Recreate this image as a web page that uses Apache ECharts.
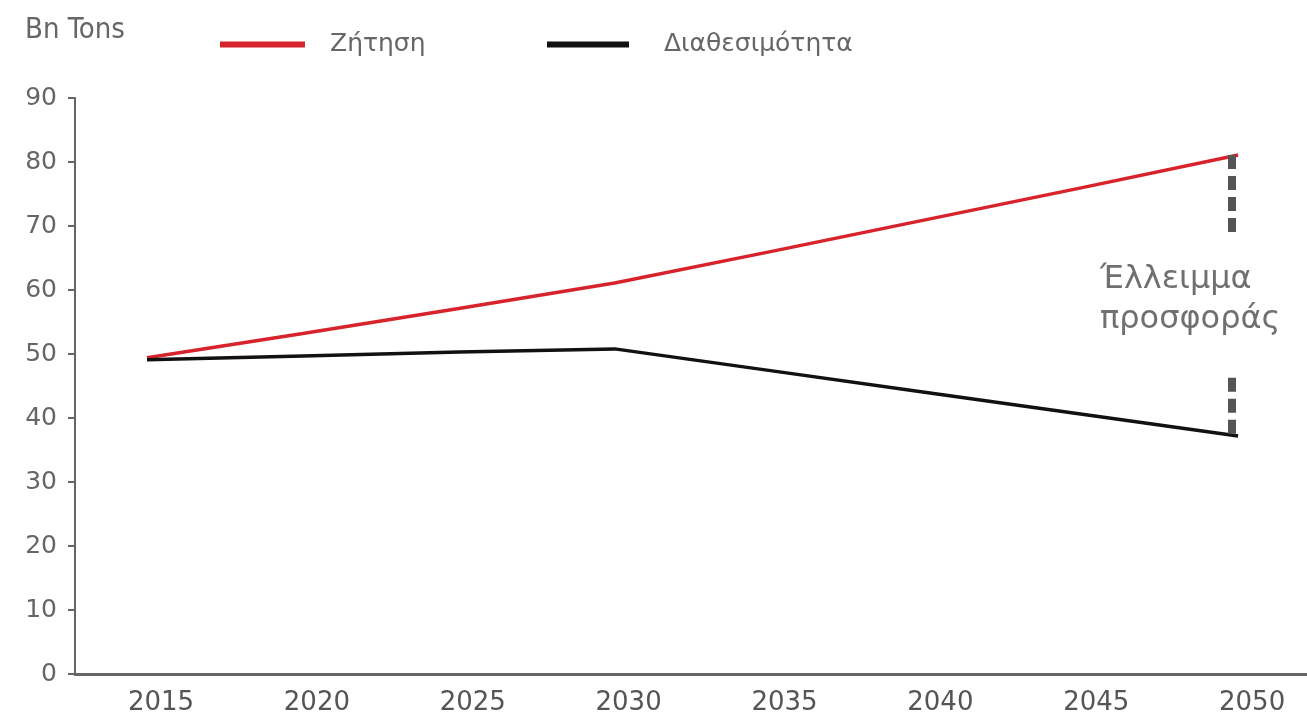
<!DOCTYPE html>
<html>
<head>
<meta charset="utf-8">
<script src="https://cdn.jsdelivr.net/npm/echarts@6/dist/echarts.min.js"></script>
<style>
html,body{margin:0;padding:0;background:#fff;}
#chart{width:1307px;height:728px;}
</style>
</head>
<body>
<div id="chart"></div>
<script>
// ---- data ----
const years = [2015, 2020, 2025, 2030, 2035, 2040, 2045, 2050];
const demand = [49.4, 53.2, 57.1, 61.1, 66.0, 71.0, 76.0, 81.1];     // Ζήτηση
const supply = [49.1, 49.7, 50.3, 50.8, 47.4, 44.0, 40.6, 37.2];     // Διαθεσιμότητα
const seriesNames = ['Ζήτηση', 'Διαθεσιμότητα'];
const gapX = 2049.8;
const gapUpper = [81.1, 69.05];
const gapLower = [46.3, 37.55];
const gapLabel = 'Έλλειμμα\nπροσφοράς';
const yTicks = [0, 10, 20, 30, 40, 50, 60, 70, 80, 90];
const yUnit = 'Bn Tons';

const FONT = "'DejaVu Sans', sans-serif";
const chart = echarts.init(document.getElementById('chart'));
const pairs = arr => years.map((y, i) => [y, arr[i]]);

chart.setOption({
  animation: false,
  backgroundColor: '#ffffff',
  grid: { left: 75, right: 0, top: 98, bottom: 54, containLabel: false },
  legend: [
    { data: [seriesNames[0]], left: 215, top: 27, icon: 'rect', itemWidth: 85, itemHeight: 6,
      textStyle: { color: '#666', fontSize: 25, fontFamily: FONT, padding: [0, 0, 0, 20] } },
    { data: [seriesNames[1]], left: 542, top: 27, icon: 'rect', itemWidth: 82, itemHeight: 6,
      textStyle: { color: '#666', fontSize: 25, fontFamily: FONT, padding: [0, 0, 0, 30] } }
  ],
  xAxis: {
    type: 'value',
    min: 2012.69, max: 2052.21,
    splitNumber: 8, minInterval: 5, maxInterval: 5,
    axisLine: { show: true, lineStyle: { color: '#666', width: 3 } },
    axisTick: { show: false },
    splitLine: { show: false },
    axisLabel: {
      showMinLabel: false, showMaxLabel: false,
      color: '#555', fontSize: 26, fontFamily: FONT, margin: 16,
      padding: [0, 0, 0, 28],
      formatter: v => (years.indexOf(Math.round(v)) >= 0 && Math.abs(v - Math.round(v)) < 1e-6) ? String(Math.round(v)) : ''
    }
  },
  yAxis: {
    type: 'value',
    min: yTicks[0], max: yTicks[yTicks.length - 1], interval: 10,
    name: yUnit, nameLocation: 'end', nameGap: 53,
    nameTextStyle: { color: '#666', fontSize: 29, fontFamily: "'Liberation Sans Narrow', 'DejaVu Sans Condensed', " + FONT, align: 'center' },
    axisLine: { show: true, lineStyle: { color: '#666', width: 2 } },
    axisTick: { show: true, length: 7, lineStyle: { color: '#666', width: 2 } },
    splitLine: { show: false },
    axisLabel: { color: '#666', fontSize: 25, fontFamily: FONT, margin: 18 }
  },
  series: [
    {
      name: seriesNames[0], type: 'line', data: pairs(demand),
      showSymbol: false, symbol: 'none',
      lineStyle: { color: '#d7232b', width: 3.5 }, itemStyle: { color: '#d7232b' },
      z: 3,
      markLine: {
        silent: true, symbol: ['none', 'none'],
        label: { show: false },
        lineStyle: { color: '#555', width: 8, type: [14, 7] },
        data: [
          [{ coord: [gapX, gapUpper[0]] }, { coord: [gapX, gapUpper[1]] }],
          [{ coord: [gapX, gapLower[0]] }, { coord: [gapX, gapLower[1]] }]
        ]
      }
    },
    {
      name: seriesNames[1], type: 'line', data: pairs(supply),
      showSymbol: false, symbol: 'none',
      lineStyle: { color: '#111', width: 3.5 }, itemStyle: { color: '#111' },
      z: 4
    }
  ],
  graphic: [
    { type: 'text', left: 1100, top: 260, z: 10,
      style: { text: gapLabel, fill: '#707070', font: "32px 'DejaVu Sans', sans-serif", lineHeight: 40 } }
  ]
});
</script>
</body>
</html>
